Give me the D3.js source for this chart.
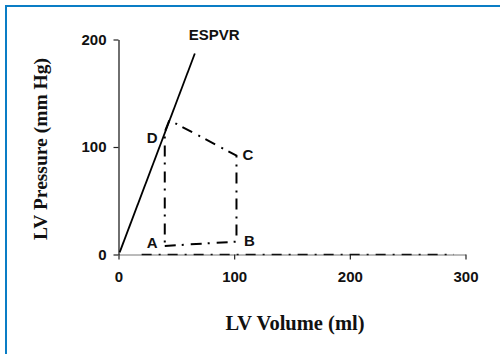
<!DOCTYPE html>
<html>
<head>
<meta charset="utf-8">
<script src="https://cdn.jsdelivr.net/npm/d3@7"></script>
<style>
  html, body { margin: 0; padding: 0; background: #fff; }
  svg { display: block; }
</style>
</head>
<body>
<svg id="chart" width="500" height="354"></svg>
<script>
// Pressure–volume loop with the end-systolic pressure–volume relation
const xTicks = [0, 100, 200, 300];
const yTicks = [0, 100, 200];

// ESPVR line (volume ml, pressure mmHg)
const espvrVolume = [1, 66];
const espvrPressure = [2, 187];

// PV loop: A → B → C → peak → D → A
const loopVolume = [40, 102, 102, 44, 40, 40];
const loopPressure = [8, 12, 92, 125, 114, 8];

// Diastolic baseline along the volume axis
const baseVolume = [20, 290];
const basePressure = [0, 0];

// Loop corner labels
const cornerNames = ["A", "B", "C", "D"];
const cornerVolume = [40, 102, 102, 40];
const cornerPressure = [8, 12, 92, 114];

const svg = d3.select("#chart");

// Frame edges
svg.append("rect").attr("x", 5).attr("y", 5).attr("width", 495).attr("height", 2).attr("fill", "#0a7dc5");
svg.append("rect").attr("x", 5).attr("y", 5).attr("width", 2).attr("height", 349).attr("fill", "#0a7dc5");

const x = d3.scaleLinear().domain([0, 300]).range([118.5, 465.5]);
const y = d3.scaleLinear().domain([0, 200]).range([254.5, 39.5]);

const tickFont = "'Liberation Sans', Arial, sans-serif";

// Axes
const xAxis = svg.append("g")
  .attr("transform", `translate(0,${y(0)})`)
  .call(d3.axisBottom(x).tickValues(xTicks).tickSize(5).tickSizeOuter(0).tickPadding(12));
const yAxis = svg.append("g")
  .attr("transform", `translate(${x(0)},0)`)
  .call(d3.axisLeft(y).tickValues(yTicks).tickSize(5).tickSizeOuter(0).tickPadding(7));

[xAxis, yAxis].forEach(g => {
  g.select(".domain").attr("stroke", "#222").attr("stroke-width", 1.3);
  g.selectAll(".tick line").attr("stroke", "#222").attr("stroke-width", 1.2);
  g.selectAll(".tick text")
    .attr("fill", "#111")
    .style("font-family", tickFont)
    .style("font-weight", "bold")
    .style("font-size", "15px");
});
xAxis.select(".domain").attr("stroke", "#777").attr("stroke-width", 1);

const line = d3.line().x(d => x(d[0])).y(d => y(d[1]));

// Baseline along the volume axis
svg.append("path")
  .datum(baseVolume.map((v, i) => [v, basePressure[i]]))
  .attr("d", line)
  .attr("fill", "none")
  .attr("stroke", "#111")
  .attr("stroke-width", 1.5)
  .attr("stroke-dasharray", "10,7,2,7");

// ESPVR
svg.append("path")
  .datum(espvrVolume.map((v, i) => [v, espvrPressure[i]]))
  .attr("d", line)
  .attr("fill", "none")
  .attr("stroke", "#000")
  .attr("stroke-width", 1.8);

// PV loop
svg.append("path")
  .datum(loopVolume.map((v, i) => [v, loopPressure[i]]))
  .attr("d", line)
  .attr("fill", "none")
  .attr("stroke", "#000")
  .attr("stroke-width", 2)
  .attr("stroke-dasharray", "11,6,2,7");

// Labels
svg.append("text")
  .attr("x", x(espvrVolume[1]) - 6)
  .attr("y", y(espvrPressure[1]) - 13)
  .text("ESPVR")
  .style("font-family", tickFont)
  .style("font-weight", "bold")
  .style("font-size", "15px")
  .attr("fill", "#111");

const labelOffset = { A: [-18, -2], B: [7.5, 0], C: [6, 0], D: [-18, 7] };
svg.selectAll("text.corner")
  .data(cornerNames)
  .join("text")
  .attr("class", "corner")
  .attr("x", (d, i) => x(cornerVolume[i]) + labelOffset[d][0])
  .attr("y", (d, i) => y(cornerPressure[i]) + labelOffset[d][1])
  .attr("dominant-baseline", "middle")
  .text(d => d)
  .style("font-family", tickFont)
  .style("font-weight", "bold")
  .style("font-size", "15px")
  .attr("fill", "#111");

// Axis titles
const titleFont = "'Liberation Serif', 'Times New Roman', serif";
svg.append("text")
  .attr("x", 295)
  .attr("y", 330)
  .attr("text-anchor", "middle")
  .text("LV Volume (ml)")
  .style("font-family", titleFont)
  .style("font-weight", "bold")
  .style("font-size", "20.5px")
  .attr("fill", "#111");

svg.append("text")
  .attr("transform", "translate(47,149) rotate(-90)")
  .attr("text-anchor", "middle")
  .text("LV Pressure (mm Hg)")
  .style("font-family", titleFont)
  .style("font-weight", "bold")
  .style("font-size", "19.5px")
  .attr("fill", "#111");
</script>
</body>
</html>
